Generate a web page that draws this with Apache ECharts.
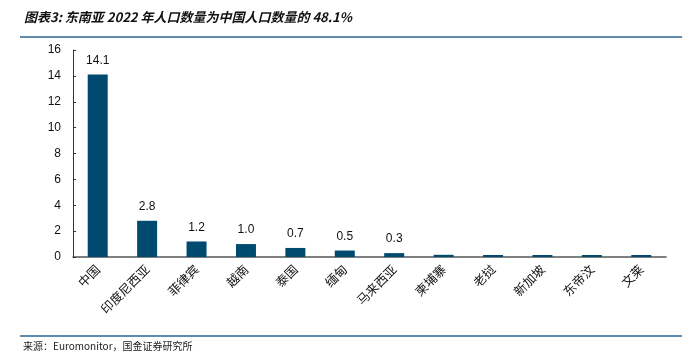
<!DOCTYPE html>
<html><head><meta charset="utf-8">
<script src="https://cdn.jsdelivr.net/npm/echarts@6/dist/echarts.min.js"></script>
<style>html,body{margin:0;padding:0;background:#fff}#c{width:682px;height:361px}</style>
</head><body><div id="c"></div>
<script>
var categories = ['中国','印度尼西亚','菲律宾','越南','泰国','缅甸','马来西亚','柬埔寨','老挝','新加坡','东帝汶','文莱'];
var values = [14.1, 2.8, 1.2, 1.0, 0.7, 0.5, 0.3, 0.17, 0.075, 0.056, 0.013, 0.004];
var labelShown = [true,true,true,true,true,true,true,false,false,false,false,false];
var yTicks = [0,2,4,6,8,10,12,14,16];
var titleText = '图表3: 东南亚 2022 年人口数量为中国人口数量的 48.1%';
var sourceText = '来源：Euromonitor，国金证券研究所';

var chart = echarts.init(document.getElementById('c'));
var barColor = '#004A6F';
chart.setOption({
  animation: false,
  grid: {left: 73, right: 16, top: 50, bottom: 104},
  xAxis: {
    type: 'category', data: categories,
    axisLine: {lineStyle: {color: '#555', width: 1.5}},
    axisTick: {inside: true, length: 3, lineStyle: {color: '#333'}},
    axisLabel: {rotate: 45, color: '#111', fontSize: 12.5, margin: 10, fontFamily: 'Noto Sans CJK SC', interval: 0}
  },
  yAxis: {
    type: 'value', min: yTicks[0], max: yTicks[yTicks.length-1], interval: 2,
    splitLine: {show: false},
    axisLine: {show: true, lineStyle: {color: '#333'}},
    axisTick: {show: true, inside: true, length: 3, lineStyle: {color: '#333'}},
    axisLabel: {color: '#111', fontSize: 12, margin: 12, fontFamily: 'Liberation Sans'}
  },
  series: [{
    type: 'bar', barWidth: 20, barMinHeight: 2,
    data: values.map(function(v, i){
      return {value: v, label: {show: labelShown[i]}};
    }),
    itemStyle: {color: barColor},
    label: {position: 'top', distance: 8, color: '#111', fontSize: 12, fontFamily: 'Liberation Sans',
      formatter: function(p){ return p.value.toFixed(1); }}
  }],
  graphic: [
    {type: 'text', left: 24, top: 11, style: {text: titleText, font: 'italic bold 13px "Noto Sans CJK SC"', fill: '#111'}},
    {type: 'line', shape: {x1: 20, y1: 37, x2: 682, y2: 37}, style: {stroke: '#2B6492', lineWidth: 1.5}},
    {type: 'line', shape: {x1: 20, y1: 336, x2: 682, y2: 336}, style: {stroke: '#2B6492', lineWidth: 1.5}},
    {type: 'text', left: 23, top: 341, style: {text: sourceText, font: '10px "Noto Sans CJK SC"', fill: '#222'}}
  ]
});
</script></body></html>
